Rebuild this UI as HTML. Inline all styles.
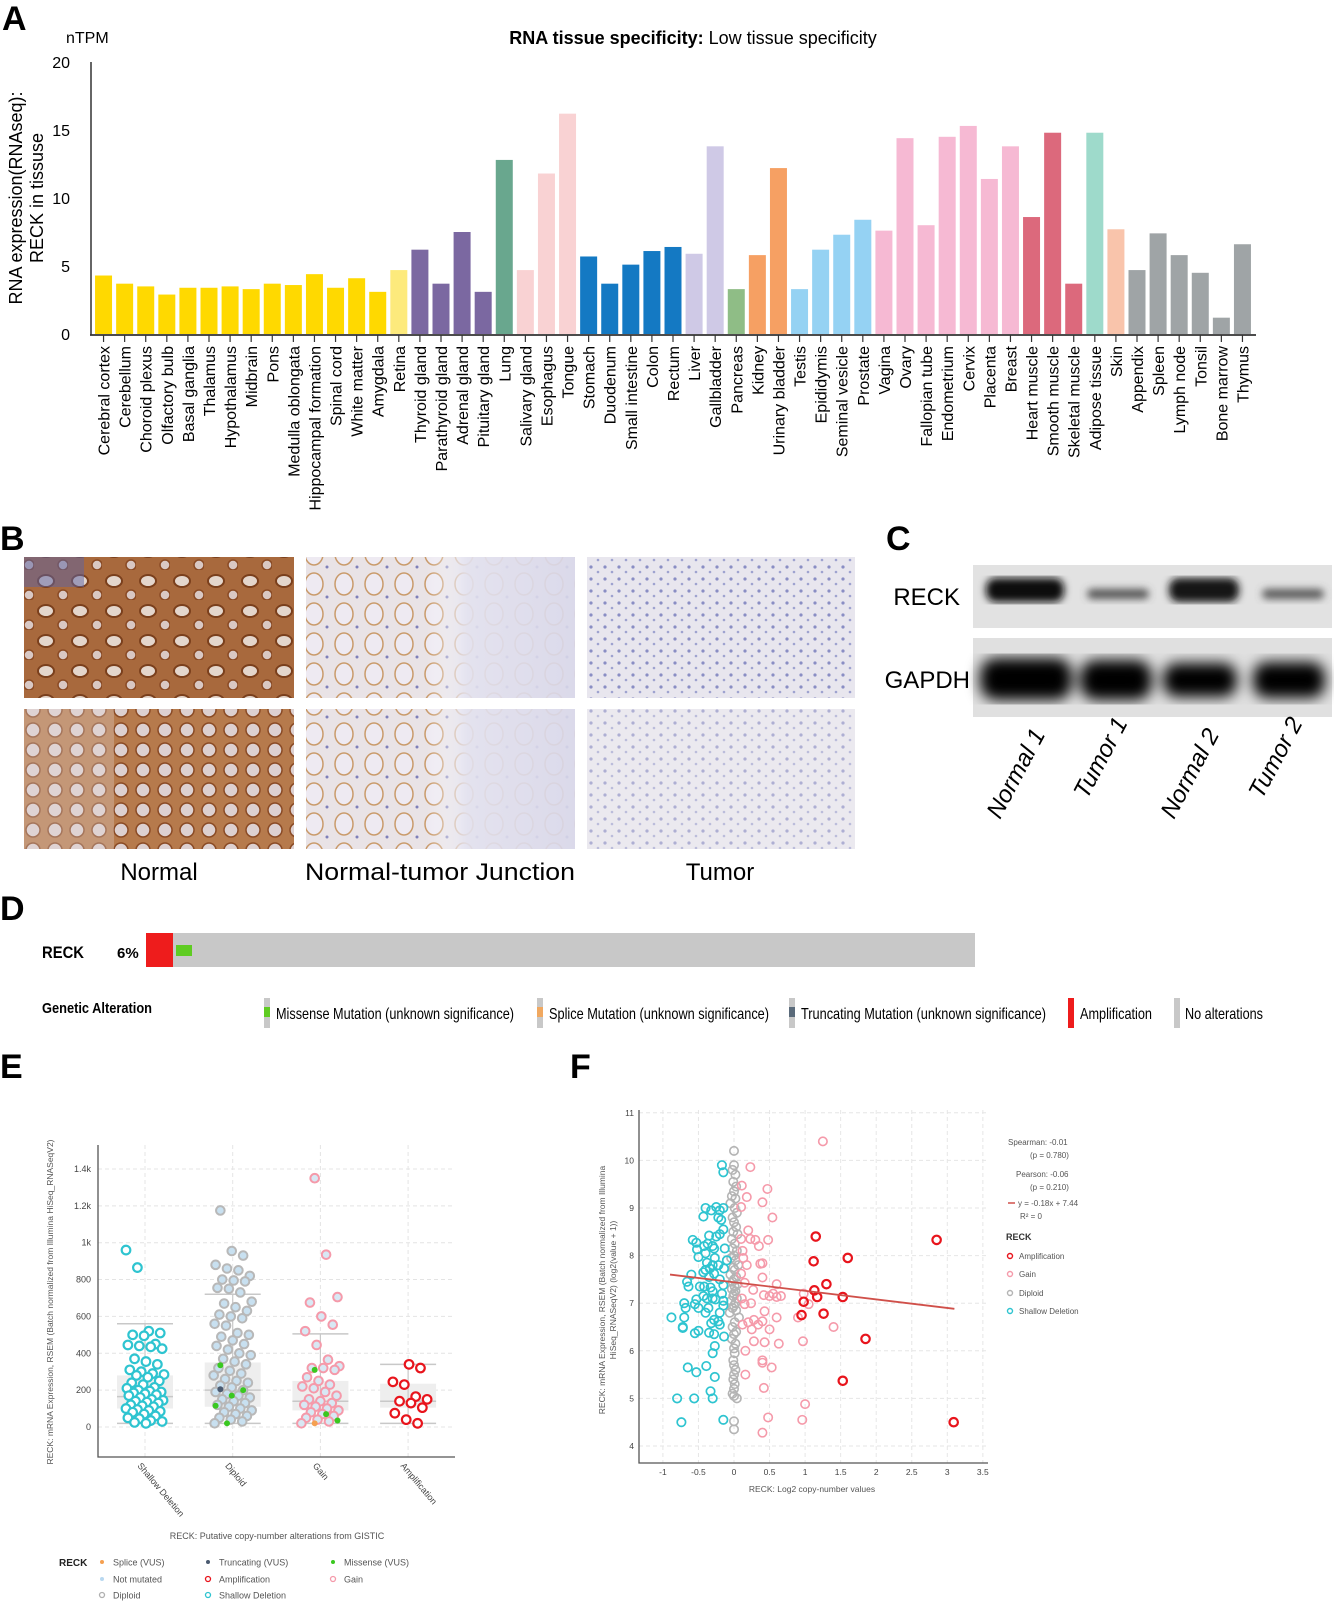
<!DOCTYPE html>
<html><head><meta charset="utf-8"><style>
html,body{margin:0;padding:0;background:#fff;}
svg{display:block;font-family:"Liberation Sans",Arial,sans-serif;}
</style></head><body>
<svg id="fig" width="1334" height="1622" viewBox="0 0 1334 1622" xmlns="http://www.w3.org/2000/svg">
<defs>
<pattern id="pNormal" width="34" height="30" patternUnits="userSpaceOnUse">
<rect width="34" height="30" fill="#a8693d"/><ellipse cx="12" cy="11" rx="8" ry="6" fill="#e4d6cc" stroke="#7a3f1c" stroke-width="2"/><ellipse cx="29" cy="25" rx="5" ry="5" fill="#d9c8c4" stroke="#8a4a24" stroke-width="1.5"/></pattern>
<pattern id="pNormal2" width="22" height="20" patternUnits="userSpaceOnUse">
<rect width="22" height="20" fill="#b67a4c"/><circle cx="11" cy="10" r="7" fill="#ddd0d0" stroke="#8a4a24" stroke-width="1.5"/></pattern>
<pattern id="pJunc" width="30" height="30" patternUnits="userSpaceOnUse">
<rect width="30" height="30" fill="#e9e3e6"/><ellipse cx="14" cy="14" rx="9" ry="11" fill="#eeeaf2" stroke="#c99a6a" stroke-width="1.5"/><circle cx="27" cy="27" r="1.5" fill="#7d7fb8"/></pattern>
<pattern id="pTumor" width="14" height="12" patternUnits="userSpaceOnUse">
<rect width="14" height="12" fill="#e8e6ee"/><circle cx="3" cy="3" r="1.6" fill="#8a8ec4"/><circle cx="10" cy="8" r="1.3" fill="#9ea2cf"/></pattern>
<filter id="blur4"><feGaussianBlur stdDeviation="4"/></filter>
<filter id="blur7"><feGaussianBlur stdDeviation="7"/></filter>
<linearGradient id="jgrad" x1="0" x2="1"><stop offset="0" stop-color="#fff" stop-opacity="0"/><stop offset="0.45" stop-color="#fff" stop-opacity="0"/><stop offset="0.6" stop-color="#e3e2ef" stop-opacity="0.9"/><stop offset="1" stop-color="#d9d8ea" stop-opacity="0.9"/></linearGradient>
</defs>

<text x="2" y="30" font-size="34" font-weight="bold">A</text>
<text x="0" y="550" font-size="34" font-weight="bold">B</text>
<text x="886" y="550" font-size="34" font-weight="bold">C</text>
<text x="0" y="920" font-size="34" font-weight="bold">D</text>
<text x="0" y="1078" font-size="34" font-weight="bold">E</text>
<text x="570" y="1078" font-size="34" font-weight="bold">F</text>

<g id="panelA">
<text x="66" y="43" font-size="16">nTPM</text>
<text x="693" y="44" font-size="18" text-anchor="middle"><tspan font-weight="bold">RNA tissue specificity:</tspan> Low tissue specificity</text>
<text transform="translate(22,198) rotate(-90)" font-size="18" text-anchor="middle">RNA expression(RNAseq):</text>
<text transform="translate(43,198) rotate(-90)" font-size="18" text-anchor="middle">RECK in tissuse</text>
</g>

<g>
<rect x="24" y="557" width="270" height="141" fill="url(#pNormal)"/>
<rect x="24" y="557" width="60" height="30" fill="#5c63a5" opacity="0.5"/>
<rect x="24" y="709" width="270" height="140" fill="url(#pNormal2)"/>
<rect x="24" y="709" width="90" height="140" fill="#e4dcdc" opacity="0.3"/>
<rect x="306" y="557" width="269" height="141" fill="url(#pJunc)"/>
<rect x="306" y="557" width="269" height="141" fill="url(#jgrad)"/>
<rect x="306" y="709" width="269" height="140" fill="url(#pJunc)"/>
<rect x="306" y="709" width="269" height="140" fill="url(#jgrad)"/>
<rect x="587" y="557" width="268" height="141" fill="url(#pTumor)"/>
<rect x="587" y="709" width="268" height="140" fill="url(#pTumor)"/>
<rect x="587" y="709" width="268" height="140" fill="#f2eff2" opacity="0.35"/>
<text x="159" y="880" font-size="24" text-anchor="middle">Normal</text>
<text x="440" y="880" font-size="24" text-anchor="middle" textLength="270" lengthAdjust="spacingAndGlyphs">Normal-tumor Junction</text>
<text x="720" y="880" font-size="24" text-anchor="middle">Tumor</text>
</g>

<g>
<rect x="973" y="565" width="359" height="63" fill="#e2e2e2"/>
<rect x="973" y="638" width="359" height="79" fill="#e0e0e0"/>
<g filter="url(#blur4)">
<rect x="986" y="578" width="78" height="24" rx="10" fill="#111"/>
<rect x="1087" y="589" width="62" height="10" rx="5" fill="#555"/>
<rect x="1169" y="578" width="70" height="24" rx="10" fill="#151515"/>
<rect x="1262" y="589" width="62" height="10" rx="5" fill="#5a5a5a"/>
</g>
<g filter="url(#blur7)">
<rect x="980" y="658" width="92" height="42" rx="16" fill="#000"/>
<rect x="1080" y="660" width="72" height="40" rx="16" fill="#000"/>
<rect x="1163" y="663" width="74" height="34" rx="14" fill="#000"/>
<rect x="1253" y="662" width="72" height="36" rx="14" fill="#000"/>
</g>
<text x="960" y="605" font-size="24" text-anchor="end">RECK</text>
<text x="970" y="688" font-size="24" text-anchor="end">GAPDH</text>
<text transform="translate(1000,820) rotate(-62)" font-size="24" font-style="italic">Normal 1</text>
<text transform="translate(1087,800) rotate(-62)" font-size="24" font-style="italic">Tumor 1</text>
<text transform="translate(1174,820) rotate(-62)" font-size="24" font-style="italic">Normal 2</text>
<text transform="translate(1262,800) rotate(-62)" font-size="24" font-style="italic">Tumor 2</text>
</g>

<g>
<text x="42" y="958" font-size="17" font-weight="bold" textLength="42" lengthAdjust="spacingAndGlyphs">RECK</text>
<text x="117" y="958" font-size="15" font-weight="bold">6%</text>
<rect x="146" y="933" width="829" height="34" fill="#c8c8c8"/>
<rect x="146" y="933" width="27" height="34" fill="#ee1c1c"/>
<rect x="176" y="945" width="16" height="11" fill="#5fcc22"/>
<text x="42" y="1013" font-size="15" font-weight="bold" textLength="110" lengthAdjust="spacingAndGlyphs">Genetic Alteration</text>
<g><rect x="264" y="998" width="6" height="30" fill="#c8c8c8"/><rect x="264" y="1007" width="6" height="10" fill="#5fcc22"/><text x="276" y="1019" font-size="16" textLength="238" lengthAdjust="spacingAndGlyphs">Missense Mutation (unknown significance)</text></g>
<g><rect x="537" y="998" width="6" height="30" fill="#c8c8c8"/><rect x="537" y="1007" width="6" height="10" fill="#f0a860"/><text x="549" y="1019" font-size="16" textLength="220" lengthAdjust="spacingAndGlyphs">Splice Mutation (unknown significance)</text></g>
<g><rect x="789" y="998" width="6" height="30" fill="#c8c8c8"/><rect x="789" y="1007" width="6" height="10" fill="#5a6a7a"/><text x="801" y="1019" font-size="16" textLength="245" lengthAdjust="spacingAndGlyphs">Truncating Mutation (unknown significance)</text></g>
<g><rect x="1068" y="998" width="6" height="30" fill="#ee1c1c"/><text x="1080" y="1019" font-size="16" textLength="72" lengthAdjust="spacingAndGlyphs">Amplification</text></g>
<g><rect x="1174" y="998" width="6" height="30" fill="#c8c8c8"/><text x="1185" y="1019" font-size="16" textLength="78" lengthAdjust="spacingAndGlyphs">No alterations</text></g>
</g>

<g id="panelE"></g>
<g id="panelF"></g>
</svg>

<script>
const tissues = ["Cerebral cortex","Cerebellum","Choroid plexus","Olfactory bulb","Basal ganglia","Thalamus","Hypothalamus","Midbrain","Pons","Medulla oblongata","Hippocampal formation","Spinal cord","White matter","Amygdala","Retina","Thyroid gland","Parathyroid gland","Adrenal gland","Pituitary gland","Lung","Salivary gland","Esophagus","Tongue","Stomach","Duodenum","Small intestine","Colon","Rectum","Liver","Gallbladder","Pancreas","Kidney","Urinary bladder","Testis","Epididymis","Seminal vesicle","Prostate","Vagina","Ovary","Fallopian tube","Endometrium","Cervix","Placenta","Breast","Heart muscle","Smooth muscle","Skeletal muscle","Adipose tissue","Skin","Appendix","Spleen","Lymph node","Tonsil","Bone marrow","Thymus"];
const ntpm = [4.3,3.7,3.5,2.9,3.4,3.4,3.5,3.3,3.7,3.6,4.4,3.4,4.1,3.1,4.7,6.2,3.7,7.5,3.1,12.8,4.7,11.8,16.2,5.7,3.7,5.1,6.1,6.4,5.9,13.8,3.3,5.8,12.2,3.3,6.2,7.3,8.4,7.6,14.4,8.0,14.5,15.3,11.4,13.8,8.6,14.8,3.7,14.8,7.7,4.7,7.4,5.8,4.5,1.2,6.6];
const tissueGroup = [0,0,0,0,0,0,0,0,0,0,0,0,0,0,1,2,2,2,2,3,4,4,4,5,5,5,5,5,6,6,7,8,8,9,9,9,9,10,10,10,10,10,10,10,11,11,11,12,13,14,14,14,14,14,14];
const groupColors = ["#ffd900","#fdea7c","#7b68a1","#69a78e","#f9d2d3","#1479c3","#cfc9e6","#8fbd86","#f6a063","#95d2f3","#f6b9d3","#dc697c","#9edacb","#f9c4ab","#9fa4a6"];
const yTicksA = [0,5,10,15,20];

const NS = "http://www.w3.org/2000/svg";
function mk(parent, tag, attrs, txt){const e=document.createElementNS(NS,tag);for(const k in attrs)e.setAttribute(k,attrs[k]);if(txt!==undefined)e.textContent=txt;parent.appendChild(e);return e;}

(function(){
  const g = document.getElementById('panelA');
  const x0=93, x1=1253, yA=v=>334-v*13.6;
  const step=(x1-x0)/tissues.length;
  yTicksA.forEach(t=>{
    const tl=mk(g,'text',{x:70,y:yA(t)+6,'font-size':16,'text-anchor':'end'},String(t));
    
    
  });
  const ax=mk(g,'line',{x1:91,y1:yA(20),x2:91,y2:335,stroke:'#333','stroke-width':1.5});
  
  
  tissues.forEach((t,i)=>{
    const cx=x0+step*(i+0.5);
    const b=mk(g,'rect',{x:cx-8.5,y:yA(ntpm[i]),width:17,height:334-yA(ntpm[i]),fill:groupColors[tissueGroup[i]]});
    
    
    const tk=mk(g,'line',{x1:cx,y1:335,x2:cx,y2:342,stroke:'#333','stroke-width':1.2});
    
    
    const lb=mk(g,'text',{transform:`translate(${cx+6},346) rotate(-90)`,'font-size':16,'text-anchor':'end'},t);
    
    
  });
  const xa=mk(g,'line',{x1:90,y1:335,x2:1256,y2:335,stroke:'#333','stroke-width':1.8});
  
  
})();

const cnaCategories = ["Shallow Deletion","Diploid","Gain","Amplification"];
const shallowVals = [960,865,520,510,500,495,450,445,440,435,425,370,355,340,310,300,290,285,280,270,250,240,230,215,210,200,195,190,185,180,175,170,160,150,145,140,135,130,120,115,110,100,95,90,85,80,70,60,50,45,35,30,25,20];
const diploidVals = [1175,955,930,880,860,850,820,800,795,790,755,750,730,680,670,650,630,610,600,590,560,550,510,500,490,470,450,440,420,400,390,370,355,340,320,305,290,280,260,250,240,225,215,200,190,180,170,160,150,140,130,120,110,100,90,80,70,60,50,40,30,20];
const gainVals = [1350,935,705,675,600,555,520,445,365,330,320,320,310,270,250,230,220,210,190,170,150,140,130,120,110,100,90,80,70,60,50,40,30,20];
const ampVals = [340,320,245,230,165,150,140,130,105,75,40,20];
const diploidMissense = [335,170,200,115,20];
const gainMissense = [310,70,35];
const diploidTruncating = [205];
const gainSplice = [20];
const boxStats = [[20,100,165,280,560],[20,110,200,350,720],[20,90,140,250,505],[20,105,140,235,340]];
const yTicksE = [0,200,400,600,800,1000,1200,1400];
const yTickLabelsE = ["0","200","400","600","800","1k","1.2k","1.4k"];

(function(){
  const g=document.getElementById('panelE');
  const L=98,R=455,T=1145,B=1457;
  const yE=v=>1427-v*0.1843;
  const xE=i=>145+i*87.7;
  yTicksE.forEach((t,i)=>{
    const gl=mk(g,'line',{x1:L,y1:yE(t),x2:R,y2:yE(t),stroke:'#e4e4e4','stroke-dasharray':'4,3'});
    
    
    const tl=mk(g,'text',{x:L-7,y:yE(t)+3,'font-size':9,'text-anchor':'end',fill:'#444'},yTickLabelsE[i]);
    
    
  });
  cnaCategories.forEach((c,i)=>{
    const gl=mk(g,'line',{x1:xE(i),y1:T,x2:xE(i),y2:B,stroke:'#e4e4e4','stroke-dasharray':'4,3'});
    
    
  });
  const axes=mk(g,'path',{d:`M${L},${T} V${B} H${R}`,fill:'none',stroke:'#555','stroke-width':1.3});
  
  
  boxStats.forEach((s,i)=>{
    const cx=xE(i);
    const bx=mk(g,'rect',{x:cx-28,y:yE(s[3]),width:56,height:yE(s[1])-yE(s[3]),fill:'#eeeeee'});
    
    
    [s[0],s[2],s[4]].forEach(v=>{
      const l=mk(g,'line',{x1:cx-28,y1:yE(v),x2:cx+28,y2:yE(v),stroke:'#c8c8c8','stroke-width':1.5});
      
      
    });
    const w=mk(g,'line',{x1:cx,y1:yE(s[0]),x2:cx,y2:yE(s[4]),stroke:'#c8c8c8','stroke-width':1.2});
    
    
    const lb=mk(g,'text',{transform:`translate(${cx-8},${1466}) rotate(50)`,'font-size':9,fill:'#444'},cnaCategories[i]);
    
    
  });
  function pts(vals,ci,stroke,fill,sw,r,name){
    vals.forEach((v,j)=>{
      const jit=((j*53+ci*7)%41-20)*0.95;
      const c=mk(g,'circle',{cx:xE(ci)+jit,cy:yE(v),r:r,fill:fill,stroke:stroke,'stroke-width':sw});
      
      
    });
  }
  pts(shallowVals,0,'#2ec4d0','#fff',2.2,4.3,'point-shallow-deletion');
  pts(diploidVals,1,'#b8b8b8','#c8e0f0',2,4.3,'point-diploid');
  pts(gainVals,2,'#f59aaa','#d8e8f4',2,4.3,'point-gain');
  pts(ampVals,3,'#e8141c','#fff',2.2,4.3,'point-amplification');
  pts(diploidMissense,1,'none','#3ac820',0,3,'point-missense');
  pts(gainMissense,2,'none','#3ac820',0,3,'point-missense');
  pts(diploidTruncating,1,'none','#4a5a70',0,3,'point-truncating');
  pts(gainSplice,2,'none','#f5a050',0,3,'point-splice');
  const yt=mk(g,'text',{transform:'translate(53,1302) rotate(-90)','font-size':8.5,'text-anchor':'middle',fill:'#555'},'RECK: mRNA Expression, RSEM (Batch normalized from Illumina HiSeq_RNASeqV2)');
  
  
  const xt=mk(g,'text',{x:277,y:1539,'font-size':9,'text-anchor':'middle',fill:'#555'},'RECK: Putative copy-number alterations from GISTIC');
  
  
  const lt=mk(g,'text',{x:59,y:1566,'font-size':10,'font-weight':'bold',fill:'#222'},'RECK');
  
  
  const legendItems=[["Splice (VUS)",102,1562,'dot','#f5a050'],["Truncating (VUS)",208,1562,'dot','#4a5a70'],["Missense (VUS)",333,1562,'dot','#3ac820'],
    ["Not mutated",102,1579,'dot','#b8d8f0'],["Amplification",208,1579,'ring','#e8141c'],["Gain",333,1579,'ring','#f59aaa'],
    ["Diploid",102,1595,'ring','#b0b0b0'],["Shallow Deletion",208,1595,'ring','#2ec4d0']];
  legendItems.forEach(it=>{
    const lg=mk(g,'g',{});
    
    
    if(it[3]==='dot') mk(lg,'circle',{cx:it[1],cy:it[2],r:2,fill:it[4]});
    else mk(lg,'circle',{cx:it[1],cy:it[2],r:2.5,fill:'none',stroke:it[4],'stroke-width':1.3});
    mk(lg,'text',{x:it[1]+11,y:it[2]+3.5,'font-size':9,fill:'#555'},it[0]);
  });
})();

const ampX=[1.15,2.85,1.12,1.6,1.3,1.13,1.17,1.53,0.98,0.95,1.26,1.85,1.53,3.09];
const ampY=[8.4,8.33,7.88,7.95,7.4,7.27,7.13,7.13,7.03,6.75,6.78,6.25,5.37,4.5];
const gainX=[1.25,0.23,0.11,0.47,0.18,0.4,0.1,0.54,0.2,0.1,0.23,0.3,0.48,0.35,0.12,0.13,0.18,0.37,0.4,0.1,0.4,0.15,0.6,0.27,0.55,0.42,0.5,0.6,0.66,0.98,0.11,0.15,0.24,1.05,0.9,0.43,0.6,0.28,0.4,0.2,0.12,0.34,0.25,0.5,1.4,0.28,0.43,0.63,0.97,0.16,0.4,0.4,0.53,0.16,0.42,1.0,0.48,0.96,0.4];
const gainY=[10.4,9.86,9.47,9.4,9.23,9.12,9.02,8.8,8.53,8.35,8.35,8.33,8.33,8.2,8.1,7.95,7.8,7.83,7.84,7.62,7.54,7.43,7.4,7.28,7.2,7.17,7.15,7.13,7.15,7.2,7.1,6.98,7.0,6.98,6.7,6.83,6.7,6.65,6.62,6.6,6.55,6.55,6.45,6.45,6.5,6.2,6.18,6.15,6.2,6.0,5.8,5.75,5.65,5.5,5.22,4.88,4.6,4.55,4.28];
const shallowX=[-0.17,-0.15,-0.4,-0.32,-0.25,-0.2,-0.15,-0.43,-0.22,-0.18,-0.15,-0.2,-0.35,-0.25,-0.58,-0.53,-0.42,-0.3,-0.37,-0.28,-0.13,-0.52,-0.4,-0.5,-0.27,-0.1,-0.38,-0.3,-0.22,-0.4,-0.34,-0.14,-0.43,-0.28,-0.6,-0.35,-0.2,-0.66,-0.64,-0.48,-0.42,-0.33,-0.15,-0.3,-0.17,-0.43,-0.38,-0.3,-0.26,-0.53,-0.15,-0.7,-0.55,-0.36,-0.68,-0.5,-0.4,-0.2,-0.15,-0.88,-0.7,-0.28,-0.22,-0.72,-0.72,-0.32,-0.5,-0.55,-0.35,-0.28,-0.14,-0.2,-0.27,-0.3,-0.65,-0.39,-0.53,-0.27,-0.33,-0.8,-0.56,-0.3,-0.74,-0.15];
const shallowY=[9.9,9.75,9.0,8.95,9.02,8.95,9.0,8.82,8.8,8.75,8.55,8.45,8.42,8.4,8.33,8.27,8.2,8.2,8.25,8.15,8.15,8.13,8.05,7.97,7.95,7.9,7.85,7.8,7.8,7.7,7.73,7.73,7.65,7.62,7.6,7.55,7.5,7.45,7.35,7.35,7.35,7.33,7.38,7.25,7.2,7.15,7.1,7.1,7.08,7.08,7.05,7.0,6.98,6.9,6.9,6.9,6.8,6.8,6.95,6.7,6.7,6.65,6.62,6.5,6.48,6.58,6.42,6.37,6.38,6.35,6.3,6.55,6.1,5.95,5.65,5.68,5.55,5.45,5.15,5.0,5.0,5.0,4.5,4.55];
const diploidX=[0.0,0.0,-0.02,0.02,-0.01,0.03,0.0,-0.03,0.02,-0.05,0.01,0.04,-0.02,0.0,0.03,-0.01,0.05,-0.03,0.01,-0.02,0.04,0.0,-0.04,0.02,0.06,-0.01,0.01,-0.05,0.03,0.0,-0.02,0.05,0.01,-0.03,0.02,0.0,-0.01,0.04,-0.04,0.02,0.0,-0.02,0.03,-0.06,0.07,0.01,-0.02,0.03,0.0,-0.03,0.02,0.0,0.01,-0.01,0.0,0.02,0.0,-0.01,0.01,0.0,-0.02,0.0,0.04,0.0,0.0];
const diploidY=[10.2,9.9,9.8,9.7,9.55,9.45,9.35,9.25,9.2,9.1,9.0,8.9,8.8,8.7,8.6,8.5,8.45,8.35,8.25,8.15,8.1,8.0,7.95,7.9,7.8,7.75,7.7,7.6,7.55,7.5,7.45,7.4,7.35,7.3,7.25,7.2,7.15,7.1,7.05,7.0,6.95,6.9,6.85,6.8,6.7,6.6,6.5,6.4,6.35,6.25,6.15,6.05,5.95,5.8,5.7,5.6,5.5,5.4,5.3,5.2,5.1,5.05,5.0,4.52,4.35];
const regSlope=-0.18, regIntercept=7.44, regRange=[-0.9,3.1];
const xTicksF=[-1,-0.5,0,0.5,1,1.5,2,2.5,3,3.5];
const yTicksF=[4,5,6,7,8,9,10,11];

(function(){
  const g=document.getElementById('panelF');
  const xF=v=>734+v*71.1, yF=v=>1446-(v-4)*47.6;
  const L=639,T=1110,B=1463,R=988;
  xTicksF.forEach(t=>{
    const gl=mk(g,'line',{x1:xF(t),y1:T,x2:xF(t),y2:B,stroke:'#e6e6e6','stroke-dasharray':'4,3'});
    
    
    const tl=mk(g,'text',{x:xF(t),y:B+12,'font-size':8.5,'text-anchor':'middle',fill:'#444'},String(t));
    
    
  });
  yTicksF.forEach(t=>{
    const gl=mk(g,'line',{x1:L,y1:yF(t),x2:R,y2:yF(t),stroke:'#e6e6e6','stroke-dasharray':'4,3'});
    
    
    const tl=mk(g,'text',{x:L-5,y:yF(t)+3,'font-size':8.5,'text-anchor':'end',fill:'#444'},String(t));
    
    
  });
  const axes=mk(g,'path',{d:`M${L},${T} V${B} H${R}`,fill:'none',stroke:'#555','stroke-width':1.3});
  
  
  function pts(xs,ys,stroke,sw,name){
    xs.forEach((x,i)=>{
      const c=mk(g,'circle',{cx:xF(x),cy:yF(ys[i]),r:4.2,fill:'none',stroke:stroke,'stroke-width':sw});
      
      
    });
  }
  pts(diploidX,diploidY,'#b4b4b4',1.6,'point-diploid');
  pts(shallowX,shallowY,'#2ec4d0',1.7,'point-shallow-deletion');
  pts(gainX,gainY,'#f59aaa',1.6,'point-gain');
  pts(ampX,ampY,'#e8141c',2.2,'point-amplification');
  const rl=mk(g,'line',{x1:xF(regRange[0]),y1:yF(regSlope*regRange[0]+regIntercept),x2:xF(regRange[1]),y2:yF(regSlope*regRange[1]+regIntercept),stroke:'#d0504a','stroke-width':1.8});
  
  
  const yt=mk(g,'text',{transform:'translate(605,1290) rotate(-90)','font-size':8.5,'text-anchor':'middle',fill:'#555'},'RECK: mRNA Expression, RSEM (Batch normalized from Illumina');
  
  
  const yt2=mk(g,'text',{transform:'translate(616,1290) rotate(-90)','font-size':8.5,'text-anchor':'middle',fill:'#555'},'HiSeq_RNASeqV2) (log2(value + 1))');
  
  
  const xt=mk(g,'text',{x:812,y:1492,'font-size':8.5,'text-anchor':'middle',fill:'#555'},'RECK: Log2 copy-number values');
  
  
  const stats=[["Spearman: -0.01",1008,1145],["(p = 0.780)",1030,1158],["Pearson: -0.06",1016,1177],["(p = 0.210)",1030,1190],["y = -0.18x + 7.44",1018,1206],["R² = 0",1020,1219]];
  stats.forEach(s=>{
    const t=mk(g,'text',{x:s[1],y:s[2],'font-size':8,fill:'#555'},s[0]);
    
    
  });
  const rk=mk(g,'line',{x1:1008,y1:1203,x2:1015,y2:1203,stroke:'#d0504a','stroke-width':1.5});
  
  
  const lt=mk(g,'text',{x:1006,y:1240,'font-size':9,'font-weight':'bold',fill:'#333'},'RECK');
  
  
  [["Amplification",'#e8141c',1256],["Gain",'#f59aaa',1274],["Diploid",'#b4b4b4',1293],["Shallow Deletion",'#2ec4d0',1311]].forEach(it=>{
    const lg=mk(g,'g',{});
    
    
    mk(lg,'circle',{cx:1010,cy:it[2],r:2.5,fill:'none',stroke:it[1],'stroke-width':1.4});
    mk(lg,'text',{x:1019,y:it[2]+3,'font-size':8,fill:'#555'},it[0]);
  });
})();
</script>
</body></html>
